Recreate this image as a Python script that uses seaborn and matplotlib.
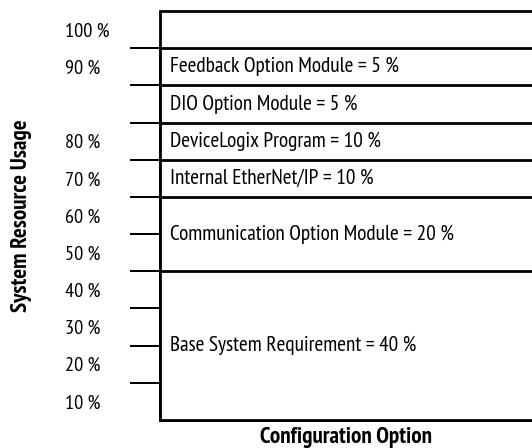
import matplotlib
matplotlib.use("Agg")
import matplotlib.pyplot as plt
import seaborn as sns
import pandas as pd
import numpy as np

# Segment data, bottom to top
segments = [
    "Base System Requirement",
    "Communication Option Module",
    "Internal EtherNet/IP",
    "DeviceLogix Program",
    "DIO Option Module",
    "Feedback Option Module",
    "",
]
usage_pct = [40, 20, 10, 10, 5, 5, None]
# schematic height of each block in the drawing (rows)
rows = [4, 2, 1, 1, 1, 1, 1]

# Axis labels (placed between the tick marks)
pct_labels = ["10 %", "20 %", "30 %", "40 %", "50 %", "60 %", "70 %", "80 %", "90 %", "100 %"]
pct_label_rows = [0.5, 1.5, 2.5, 3.5, 4.5, 5.5, 6.5, 7.5, 9.5, 10.5]
tick_rows = [1, 2, 3, 4, 5, 6, 7, 8, 9, 10]

sns.set_theme(style="white")
plt.rcParams["font.family"] = ["PT Sans Narrow", "DejaVu Sans"]
plt.rcParams["text.color"] = "black"
plt.rcParams["axes.labelcolor"] = "black"
plt.rcParams["ytick.color"] = "black"

tops = np.cumsum(rows)
bottoms = tops - np.array(rows)
df = pd.DataFrame({"option": ["cfg"] * len(rows), "top": tops, "segment": segments})

fig = plt.figure(figsize=(5.32, 4.48), dpi=100)
ax = fig.add_axes([160 / 532, 28 / 448, 372 / 532, 409 / 448])

# stacked bars: draw cumulative tops from the tallest down
for i in range(len(df) - 1, -1, -1):
    sns.barplot(data=df.iloc[[i]], x="option", y="top", ax=ax, width=1.0,
                color="white", edgecolor="black", linewidth=2, saturation=1)

for p in ax.patches:
    p.set_clip_on(False)

seg_texts = []
for seg, pct, b, r in zip(segments, usage_pct, bottoms, rows):
    if pct is None:
        continue
    seg_texts.append(ax.text(-0.5 + 0.024, b + r / 2, f"{seg} = {pct} %", ha="left",
                             va="center", fontsize=15, color="black"))

ax.set_xlim(-0.5, 0.4)
ax.set_ylim(0, tops[-1])
for s in ax.spines.values():
    s.set_visible(False)

ax.set_xticks([])
ax.set_yticks(tick_rows)
ax.set_yticklabels([])
ax.set_yticks(pct_label_rows, minor=True)
ax.set_yticklabels(pct_labels, minor=True, fontsize=14)
ax.tick_params(axis="y", which="major", left=True, length=21.6, width=1.44,
               color="black", direction="out")
ax.tick_params(axis="y", which="minor", left=True, length=0, pad=68.4)
for t in ax.get_yticklabels(minor=True):
    t.set_horizontalalignment("left")

xl = ax.set_xlabel("Configuration Option", fontsize=15, fontweight="bold", labelpad=5)
yl = ax.set_ylabel("System Resource Usage", fontsize=15, fontweight="bold")
ax.yaxis.set_label_coords(-0.343, 0.5)

# scale font sizes so text widths match the reference (pixels)
fig.canvas.draw()
rend = fig.canvas.get_renderer()

def fit_size(txt, target_px):
    return txt.get_fontsize() * target_px / txt.get_window_extent(rend).width

fs_seg = fit_size(seg_texts[-1], 230)  # "Feedback Option Module = 5 %"
for t in seg_texts:
    t.set_fontsize(fs_seg)
fs_tick = fit_size(ax.get_yticklabels(minor=True)[-1], 45)  # "100 %"
for t in ax.get_yticklabels(minor=True):
    t.set_fontsize(fs_tick)
fs_lab = fit_size(xl, 172)
xl.set_fontsize(fs_lab)
yl.set_fontsize(fs_lab)

fig.savefig("out.png", dpi=100)
